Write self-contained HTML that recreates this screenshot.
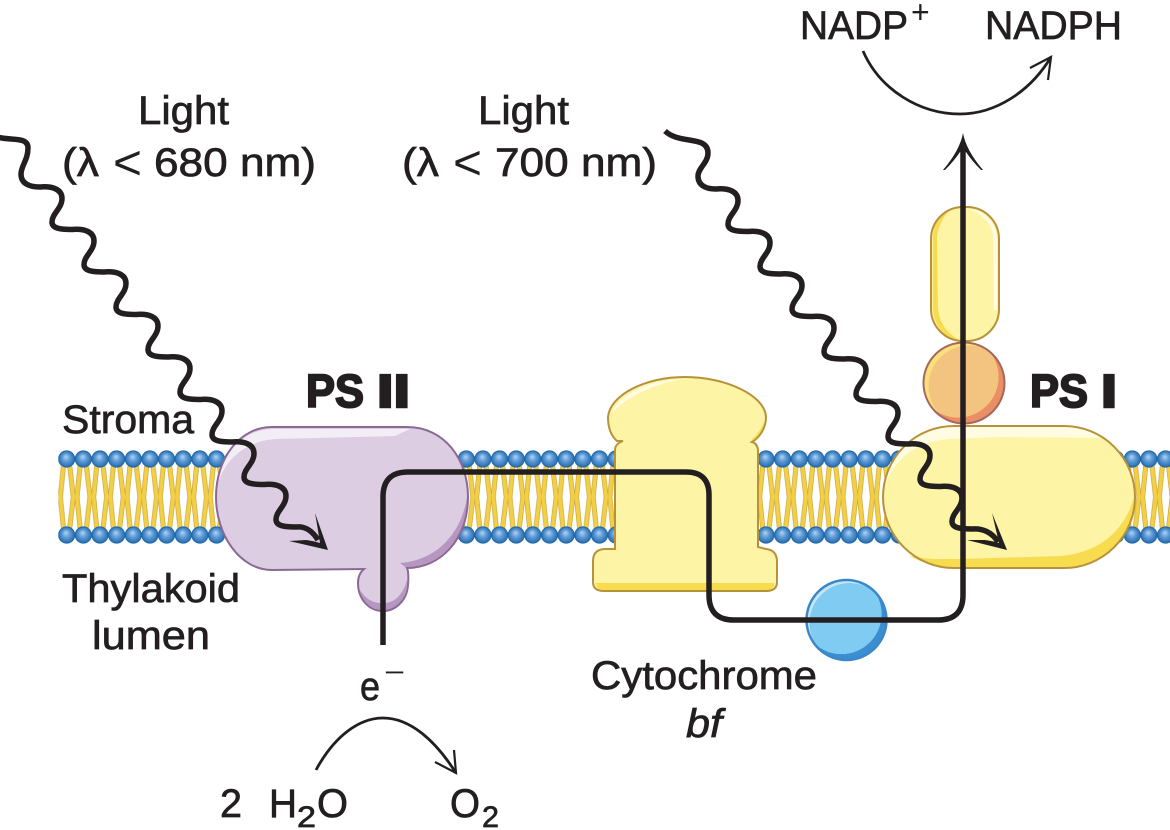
<!DOCTYPE html>
<html><head><meta charset="utf-8"><style>
html,body{margin:0;padding:0;background:#fff;width:1170px;height:830px;overflow:hidden}
svg{display:block}
text{font-family:"Liberation Sans",sans-serif;font-size:40px;fill:#231f20;stroke:#231f20;stroke-width:.7px}
</style></head><body>
<svg width="1170" height="830" viewBox="0 0 1170 830" xmlns="http://www.w3.org/2000/svg">
<defs>
<radialGradient id="hd" cx="50%" cy="50%" r="55%" fx="45%" fy="35%">
<stop offset="0" stop-color="#b5d3f0"/><stop offset=".45" stop-color="#5c9ad6"/><stop offset="1" stop-color="#1f66a8"/>
</radialGradient>
<pattern id="mem" patternUnits="userSpaceOnUse" x="58.35" y="445" width="16.65" height="104">
<g fill="none" stroke-linecap="round">
<g stroke="#c4a03c" stroke-width="5">
<path d="M5,22 L2,52 M11.5,22 L15,52 M5,82 L2,52 M11.5,82 L15,52"/>
</g>
<g stroke="#f3cf45" stroke-width="3.8">
<path d="M5,22 L2,52 M11.5,22 L15,52 M5,82 L2,52 M11.5,82 L15,52"/>
</g>
</g>
<circle cx="8.325" cy="14" r="8.1" fill="url(#hd)" stroke="#1f66a8" stroke-width="1"/>
<circle cx="8.325" cy="90" r="8.1" fill="url(#hd)" stroke="#1f66a8" stroke-width="1"/>
</pattern>
<clipPath id="bO"><circle cx="846.5" cy="620" r="40"/></clipPath>
<clipPath id="bA"><circle cx="841.5" cy="614" r="40"/></clipPath>
<clipPath id="oO"><circle cx="964" cy="383" r="40.5"/></clipPath>
<clipPath id="oA"><circle cx="958" cy="377" r="40.5"/></clipPath>
</defs>

<!-- membrane -->
<rect x="58.35" y="445" width="1112" height="104" fill="url(#mem)"/>

<!-- PS II -->
<path d="M272,427 L407,427 C445,427 468,460 468,497 C468,540 440,568 407,568 Q409,572 408,585 C407,600 396,611 383,611 C368,611 358,598 358,583 Q358,574 364,569 L272,570 C240,570 216,535 216,497 C216,458 240,427 272,427Z" fill="#dccde2"/>
<path d="M219,480 C222,450 245,430 272,429 L410,429 L395,436 L275,439 C250,441 228,455 219,480Z" fill="#f3edf5"/>
<path d="M467,497 C467,540 440,567 405,567 L400,563 C440,560 462,530 467,497Z" fill="#b797c2"/>
<path d="M407,580 C407,600 396,610 383,610 C372,610 362,602 360,590 C366,600 375,604 385,603 C396,602 403,594 407,580Z" fill="#b797c2"/>
<path d="M272,427 L407,427 C445,427 468,460 468,497 C468,540 440,568 407,568 Q409,572 408,585 C407,600 396,611 383,611 C368,611 358,598 358,583 Q358,574 364,569 L272,570 C240,570 216,535 216,497 C216,458 240,427 272,427Z" fill="none" stroke="#8a6a94" stroke-width="2"/>

<!-- Cytochrome -->
<path d="M617,441 C610,435 608,425 608,417 C610,395 645,377 685,377 C725,377 765,395 766,417 C766,428 760,437 752,442 Q757,443 758,450 L758,547 L766,549 Q777,550 777,562 L777,582 Q777,591 766,591 L604,591 Q593,591 593,582 L593,561 Q593,550 604,549 L615,549 L615,450 Q615,444 623,441 Z" fill="#fdf4a6"/>
<path d="M596,583 L774,583 Q775,590 766,590 L604,590 Q596,590 596,583Z" fill="#f8dc4f"/>
<path d="M765,420 C764,430 758,438 750,441 C757,435 762,428 765,420Z" fill="#f8dc4f"/>
<path d="M612,413 C618,395 650,379 685,379 C660,382 628,395 612,413Z" fill="#fffce2"/>
<path d="M617,441 C610,435 608,425 608,417 C610,395 645,377 685,377 C725,377 765,395 766,417 C766,428 760,437 752,442 Q757,443 758,450 L758,547 L766,549 Q777,550 777,562 L777,582 Q777,591 766,591 L604,591 Q593,591 593,582 L593,561 Q593,550 604,549 L615,549 L615,450 Q615,444 623,441 Z" fill="none" stroke="#b8923a" stroke-width="2"/>

<!-- Blue circle -->
<circle cx="846.5" cy="620" r="40" fill="#3b8fd0"/>
<g clip-path="url(#bO)">
<g clip-path="url(#bA)">
<rect x="800" y="570" width="95" height="95" fill="#c5e6f8"/>
<circle cx="849.5" cy="623" r="40" fill="#7fcbf1"/>
</g>
</g>
<circle cx="846.5" cy="620" r="40" fill="none" stroke="#3b88c9" stroke-width="2.5"/>

<!-- Yellow capsule -->
<rect x="931" y="207" width="68" height="134" rx="32" fill="#fdf4a6"/>
<path d="M933,240 C933,222 940,214 950,210 C940,220 937,232 937,240 L938,305 C938,320 945,332 958,339 C942,338 933,322 933,308Z" fill="#f8dc4f"/>
<path d="M968,209 C985,210 997,222 997,240 L997,310 L994,310 L993,238 C993,224 982,213 968,209Z" fill="#fffce2"/>
<rect x="931" y="207" width="68" height="134" rx="32" fill="none" stroke="#b8923a" stroke-width="2"/>

<!-- Orange circle -->
<circle cx="964" cy="383" r="40.5" fill="#e98e65"/>
<g clip-path="url(#oO)">
<g clip-path="url(#oA)">
<rect x="915" y="335" width="95" height="95" fill="#f9e07a"/>
<circle cx="969" cy="386" r="40.5" fill="#f3c47f"/>
</g>
</g>
<circle cx="964" cy="383" r="40.5" fill="none" stroke="#a5685a" stroke-width="2"/>

<!-- PS I -->
<rect x="883" y="426" width="252" height="142" rx="71" fill="#fdf4a6"/>
<path d="M885,485 C890,452 915,428 954,427 L1064,427 C1080,427 1095,431 1105,438 L1000,437 L950,439 C918,441 895,458 885,485Z" fill="#fffce2"/>
<path d="M1134,497 C1134,540 1100,567 1064,567 L954,567 C935,567 920,562 908,555 C925,560 940,559 960,559 L1060,556 C1100,553 1125,530 1134,497Z" fill="#f8dc4f"/>
<rect x="883" y="426" width="252" height="142" rx="71" fill="none" stroke="#b8923a" stroke-width="2"/>

<!-- electron path -->
<path d="M383,645 L383,497 Q383,472 408,472 L686,472 Q709,472 709,495 L709,595 Q709,620 734,620 L938,620 Q963,620 963,595 L963,145" fill="none" stroke="#231f20" stroke-width="5.5"/>
<path d="M963,133 Q966,150 983,170 L981,170 Q972,161 966,152 L960,152 Q954,161 945,170 L943,170 Q960,150 963,133Z" fill="#231f20"/>

<!-- wave 1 -->
<path d="M-3,137 C10,141 28,136 28,148 C28,160 21,166 21,174 C21,183 28,187 40,187
c12,-1 22,2 22,11.5 c0,10 -10,15 -10,23.5 c0,6 7,7.5 20,7.5
c12,-1 22,2 22,11.5 c0,10 -10,15 -10,23.5 c0,6 7,7.5 20,7.5
c12,-1 22,2 22,11.5 c0,10 -10,15 -10,23.5 c0,6 7,7.5 20,7.5
c12,-1 22,2 22,11.5 c0,10 -10,15 -10,23.5 c0,6 7,7.5 20,7.5
c12,-1 22,2 22,11.5 c0,10 -10,15 -10,23.5 c0,6 7,7.5 20,7.5
c12,-1 22,2 22,11.5 c0,10 -10,15 -10,23.5 c0,6 7,7.5 20,7.5
c12,-1 22,2 22,11.5 c0,10 -10,15 -10,23.5 c0,6 7,7.5 20,7.5
c12,-1 22,2 22,11.5 c0,10 -10,15 -10,23.5 c0,6 7,7.5 20,7.5
c8,-1 16,3 22,13" fill="none" stroke="#231f20" stroke-width="5.5"/>
<path d="M315,513 L328,550 L289,541 L306,540 Q314,541 320,543 Q318,530 315,513Z" fill="#231f20"/>

<!-- wave 2 -->
<path d="M665,131 C680,145 708,135 708,153 C708,163 698,168 698,176 C698,185 705,189 716,189
c12,-1 22,2 22,11.5 c0,10 -10,15 -10,23.5 c0,6 7,7.5 20,7.5
c12,-1 22,2 22,11.5 c0,10 -10,15 -10,23.5 c0,6 7,7.5 20,7.5
c12,-1 22,2 22,11.5 c0,10 -10,15 -10,23.5 c0,6 7,7.5 20,7.5
c12,-1 22,2 22,11.5 c0,10 -10,15 -10,23.5 c0,6 7,7.5 20,7.5
c12,-1 22,2 22,11.5 c0,10 -10,15 -10,23.5 c0,6 7,7.5 20,7.5
c12,-1 22,2 22,11.5 c0,10 -10,15 -10,23.5 c0,6 7,7.5 20,7.5
c12,-1 22,2 22,11.5 c0,10 -10,15 -10,23.5 c0,6 7,7.5 20,7.5
c12,-1 22,2 22,11.5 c0,10 -10,15 -10,23.5 c0,6 7,7.5 20,7.5
c10,-1 20,3 26,13" fill="none" stroke="#231f20" stroke-width="5.5"/>
<path d="M992,513 L1007,550 L967,540 L985,540 Q993,541 999,543 Q996,530 992,513Z" fill="#231f20"/>

<!-- small arcs -->
<path d="M863,51 C880,90 920,114 960,114 C995,114 1030,92 1051,57" fill="none" stroke="#231f20" stroke-width="2.8"/>
<path d="M1030,68 L1051,57 L1048,80" fill="none" stroke="#231f20" stroke-width="2.2"/>
<path d="M316,770 C335,735 360,718 383,718 C410,718 435,740 456,773" fill="none" stroke="#231f20" stroke-width="2.8"/>
<path d="M435,762 L456,773 L454,750" fill="none" stroke="#231f20" stroke-width="2.2"/>

<!-- labels -->
<text x="138" y="124" textLength="91" lengthAdjust="spacingAndGlyphs">Light</text>
<text x="62" y="176" textLength="37" lengthAdjust="spacingAndGlyphs">(λ</text>
<text x="113" y="179" textLength="29" lengthAdjust="spacingAndGlyphs" style="font-size:48px;stroke-width:0">&lt;</text>
<text x="154" y="176" textLength="162" lengthAdjust="spacingAndGlyphs">680 nm)</text>
<text x="478" y="124" textLength="91" lengthAdjust="spacingAndGlyphs">Light</text>
<text x="402" y="176" textLength="37" lengthAdjust="spacingAndGlyphs">(λ</text>
<text x="453" y="179" textLength="29" lengthAdjust="spacingAndGlyphs" style="font-size:48px;stroke-width:0">&lt;</text>
<text x="495" y="176" textLength="162" lengthAdjust="spacingAndGlyphs">700 nm)</text>
<text x="800" y="39" textLength="108" lengthAdjust="spacingAndGlyphs">NADP</text>
<text x="911" y="23" style="font-size:32px;stroke-width:0">+</text>
<text x="985" y="39" textLength="137" lengthAdjust="spacingAndGlyphs">NADPH</text>
<text x="306" y="407" textLength="58" lengthAdjust="spacingAndGlyphs" style="font-size:46px;font-weight:bold;stroke-width:2px">PS</text>
<text x="377" y="407" textLength="33" lengthAdjust="spacingAndGlyphs" style="font-size:46px;font-weight:bold;stroke-width:2.4px">II</text>
<text x="1030" y="407" textLength="58" lengthAdjust="spacingAndGlyphs" style="font-size:46px;font-weight:bold;stroke-width:2px">PS</text>
<text x="1101" y="407" textLength="16" lengthAdjust="spacingAndGlyphs" style="font-size:46px;font-weight:bold;stroke-width:2.4px">I</text>
<text x="62" y="433" textLength="132" lengthAdjust="spacingAndGlyphs">Stroma</text>
<text x="62" y="602" textLength="178" lengthAdjust="spacingAndGlyphs">Thylakoid</text>
<text x="92" y="649" textLength="118" lengthAdjust="spacingAndGlyphs">lumen</text>
<text x="360" y="700" textLength="20" lengthAdjust="spacingAndGlyphs">e</text>
<text x="384" y="681" textLength="21" lengthAdjust="spacingAndGlyphs" style="font-size:26px;stroke-width:0">−</text>
<text x="591" y="689" textLength="226" lengthAdjust="spacingAndGlyphs">Cytochrome</text>
<text x="686" y="737" textLength="36" lengthAdjust="spacingAndGlyphs" style="font-style:italic">bf</text>
<text x="220" y="817" textLength="22" lengthAdjust="spacingAndGlyphs">2</text>
<text x="269" y="817" textLength="28" lengthAdjust="spacingAndGlyphs">H</text>
<text x="297" y="827" textLength="19" lengthAdjust="spacingAndGlyphs" style="font-size:30px">2</text>
<text x="317" y="817" textLength="31" lengthAdjust="spacingAndGlyphs">O</text>
<text x="450" y="817" textLength="30" lengthAdjust="spacingAndGlyphs">O</text>
<text x="482" y="827" textLength="17" lengthAdjust="spacingAndGlyphs" style="font-size:30px">2</text>
</svg>
</body></html>
